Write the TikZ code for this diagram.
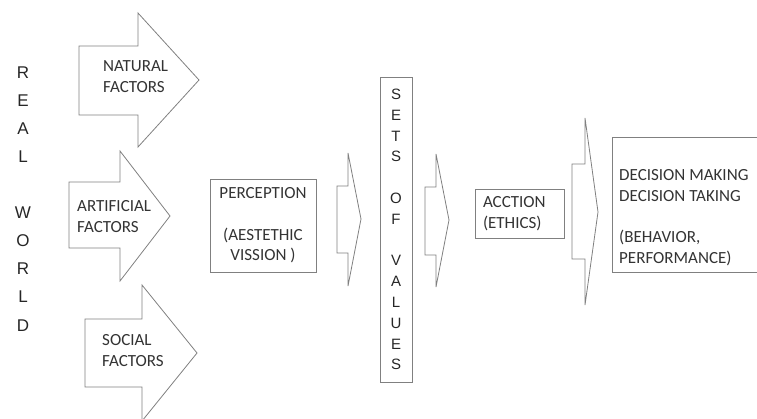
\documentclass[tikz,border=0pt]{standalone}
\usepackage{fontspec}
\setmainfont{Carlito}
\newfontfamily\letterfont{Liberation Sans}
\usetikzlibrary{positioning}
\definecolor{linegray}{gray}{0.5}
\definecolor{textgray}{gray}{0.2}
\tikzstyle{blockarrow} = [
  draw=linegray,
  line width=0.8pt,
  fill=white,
  line join=miter
]
\tikzstyle{box} = [
  rectangle,
  draw=linegray,
  line width=0.8pt,
  inner sep=0pt
]
\tikzstyle{label text} = [
  align=left,
  inner sep=0pt,
  text=textgray,
  font=\fontsize{17}{20.7}\selectfont
]
\tikzstyle{letters} = [
  align=center,
  inner sep=0pt,
  text=black!85
]

\begin{document}
\begin{tikzpicture}[x=1pt, y=-1pt]
    \useasboundingbox (0,0) rectangle (757,418);

    % real world column
    \node (real-world) [letters, anchor=base, font=\letterfont\fontsize{17}{28.1}\selectfont] at (23,331)
      {R\\E\\A\\L\\~\\W\\O\\R\\L\\D};

    % factor arrows
    \draw [blockarrow] (79,46) -- (138,46) -- (138,13) -- (199,80) -- (138,147) -- (138,115) -- (79,115) -- cycle;
    \draw [blockarrow] (69,182) -- (120,182) -- (120,151) -- (170,216) -- (120,281) -- (120,248) -- (69,248) -- cycle;
    \draw [blockarrow] (85,319) -- (142,319) -- (142,285) -- (197,353) -- (142,421) -- (142,387) -- (85,387) -- cycle;
    \node (natural) [label text, anchor=base west] at (103,92.5) {NATURAL\\FACTORS};
    \node (artificial) [label text, anchor=base west] at (77,232.5) {ARTIFICIAL\\FACTORS};
    \node (social) [label text, anchor=base west] at (102,366.5) {SOCIAL\\FACTORS};

    % perception
    \node (perception) [box, label text, align=center, minimum width=106pt, minimum height=93pt] at (263,225.5)
      {PERCEPTION\\~\\(AESTETHIC\\VISSION )};
    \draw [blockarrow] (337,186) -- (348,186) -- (348,153) -- (361,219) -- (348,286) -- (348,253) -- (337,253) -- cycle;

    % sets of values
    \node (values) [box, letters, font=\letterfont\fontsize{15}{20.8}\selectfont, minimum width=32pt, minimum height=305pt] at (396,229.5)
      {S\\E\\T\\S\\~\\O\\F\\~\\V\\A\\L\\U\\E\\S};
    \draw [blockarrow] (425,187) -- (436,187) -- (436,154) -- (449,220) -- (436,287) -- (436,255) -- (425,255) -- cycle;

    % action
    \node (action) [box, label text, text width=73pt, inner xsep=8pt, minimum height=49pt] at (519.5,213.5)
      {ACCTION\\(ETHICS)};
    \draw [blockarrow] (572,164) -- (585,164) -- (585,118) -- (598,212) -- (585,305) -- (585,259) -- (572,259) -- cycle;

    % decision
    \node (decision-box) [box, minimum width=160pt, minimum height=135pt] at (692,204.5) {};
    \node (decision) [label text, anchor=base west] at (619,263.5)
      {DECISION MAKING\\DECISION TAKING\\~\\(BEHAVIOR,\\PERFORMANCE)};
\end{tikzpicture}
\end{document}
